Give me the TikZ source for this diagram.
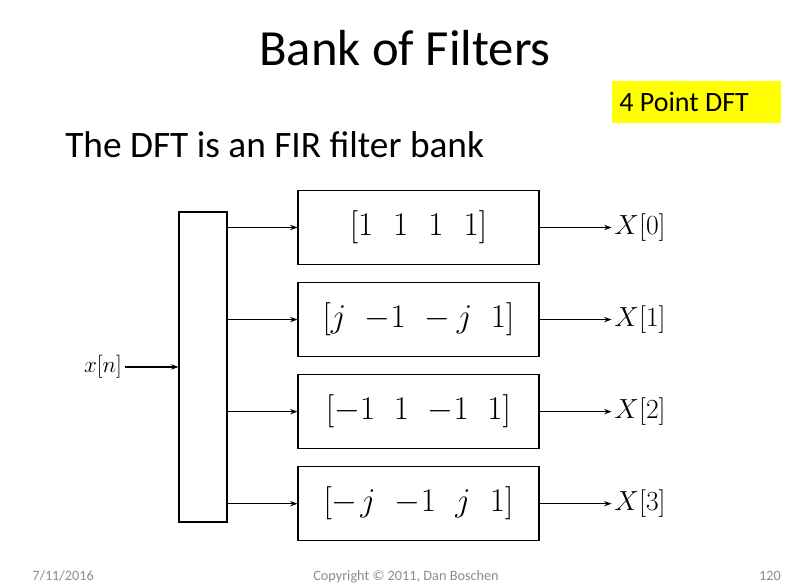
\documentclass[tikz,border=0pt]{standalone}
\usepackage{fontspec}
\setmainfont{Carlito}
\usetikzlibrary{positioning,arrows.meta}
\definecolor{SlideYellow}{HTML}{FFFF00}
\definecolor{SlideGray}{HTML}{8C8C8C}
\newcommand{\gap}[1]{\hspace{#1}}

\begin{document}
\begin{tikzpicture}[x=0.75pt,y=-0.75pt,>={Stealth[length=5.5pt,width=4pt]},node distance=12.75pt]
  \tikzstyle{filterbox}=[draw,line width=0.8pt,minimum width=180.75pt,
    minimum height=55.5pt,inner sep=0pt,font=\fontsize{23}{23}\selectfont]
  \tikzstyle{outlabel}=[inner sep=2pt,font=\fontsize{20}{20}\selectfont]
  \tikzstyle{foot}=[text=SlideGray,font=\fontsize{10.7}{12}\selectfont]
  \useasboundingbox (0,0) rectangle (797,588);
  % title and notes
  \node[font=\fontsize{38}{40}\selectfont] (title) at (405,48) {Bank of Filters};
  \node[fill=SlideYellow,minimum width=126.75pt,minimum height=31.5pt,inner sep=0pt,
    font=\fontsize{21}{22}\selectfont] (dft) at (696,102) {\makebox[115pt][l]{4 Point DFT}};
  \node[anchor=west,inner sep=0pt,font=\fontsize{28}{30}\selectfont] (sub) at (65,145)
    {The DFT is an FIR filter bank};
  % filter bank
  \node[draw,line width=0.8pt,minimum width=36pt,minimum height=232.5pt] (bank) at (203,367) {};
  \node[filterbox] (f0) at (418.5,227.5)
    {$\bigl[1\gap{15pt}1\gap{15pt}1\gap{15pt}1\bigr]$};
  \node[filterbox,below=of f0] (f1)
    {$\bigl[j\gap{14pt}{-1}\gap{14pt}{-}\gap{5pt}j\gap{14pt}1\bigr]$};
  \node[filterbox,below=of f1] (f2)
    {$\bigl[{-1}\gap{14pt}1\gap{14pt}{-1}\gap{14pt}1\bigr]$};
  \node[filterbox,below=of f2] (f3)
    {$\bigl[{-}\gap{2pt}j\gap{14.5pt}{-1}\gap{14.5pt}j\gap{14.5pt}1\bigr]$};
  \node[outlabel,right=54pt of f0] (X0) {$X[0]$};
  \node[outlabel,right=54pt of f1] (X1) {$X[1]$};
  \node[outlabel,right=54pt of f2] (X2) {$X[2]$};
  \node[outlabel,right=54pt of f3] (X3) {$X[3]$};
  \node[outlabel,font=\fontsize{19}{19}\selectfont] (xin) at (103,367) {$x[n]$};
  \draw[->,line width=0.8pt] (xin) -- (bank);
  \foreach \i in {0,...,3}{
    \draw[->,line width=0.8pt] (bank.east |- f\i.west) -- (f\i.west);
    \draw[->,line width=0.8pt] (f\i) -- (X\i);
  }
  % footer
  \node[foot,anchor=base west,inner sep=0pt] (date) at (32,580) {7/11/2016};
  \node[foot,anchor=base] (copy) at (406,580) {Copyright © 2011, Dan Boschen};
  \node[foot,anchor=base east,inner sep=0pt] (page) at (781,580) {120};
\end{tikzpicture}
\end{document}
